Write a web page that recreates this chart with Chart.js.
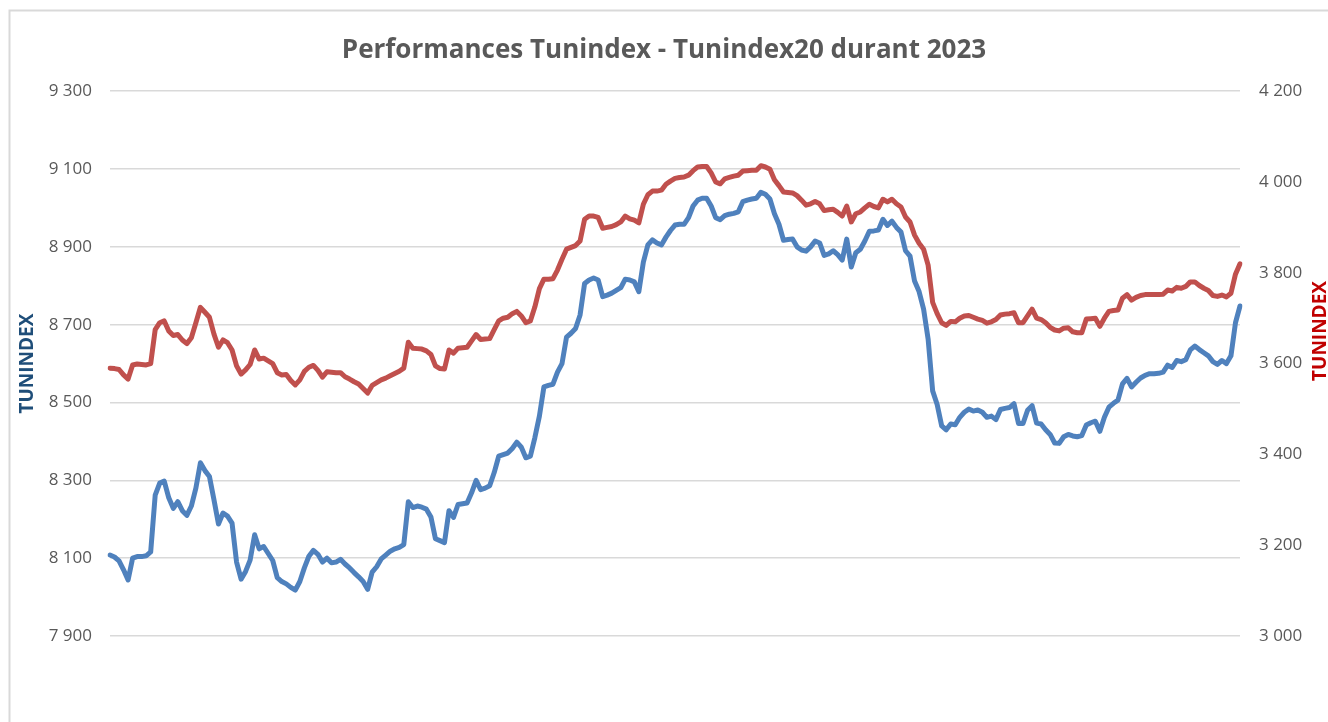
<!DOCTYPE html>
<html lang="fr">
<head>
    <meta charset="UTF-8">
    <title>Performances Tunindex - Tunindex20 durant 2023</title>
    <style>
        body {
            margin: 0;
            background-color: #FFFFFF;
        }
        #chartContainer {
            width: 1328px;
            height: 722px;
        }
    </style>
    <script src="https://cdn.jsdelivr.net/npm/chart.js"></script>
</head>
<body>
    <div id="chartContainer">
        <canvas id="myChart" width="1328" height="722"></canvas>
    </div>

    <script>
        // Clôtures quotidiennes 2023 (une valeur par séance)
        var tunindex = [
            8108, 8103, 8093, 8070, 8044, 8100, 8104, 8104, 8106, 8116,
            8262, 8293, 8298, 8255, 8228, 8245, 8222, 8210, 8234, 8280,
            8345, 8325, 8310, 8250, 8188, 8216, 8208, 8190, 8090, 8046,
            8066, 8095, 8160, 8124, 8130, 8112, 8094, 8050, 8040, 8034,
            8025, 8018, 8040, 8075, 8105, 8120, 8110, 8090, 8100, 8088,
            8090, 8097, 8085, 8075, 8063, 8052, 8040, 8020, 8064, 8078,
            8098, 8108, 8118, 8124, 8128, 8135, 8245, 8230, 8234, 8231,
            8226, 8206, 8150, 8145, 8140, 8222, 8205, 8238, 8240, 8242,
            8268, 8300, 8276, 8280, 8286, 8320, 8362, 8366, 8370, 8382,
            8398, 8385, 8358, 8362, 8410, 8465, 8540, 8544, 8547, 8578,
            8600, 8668, 8678, 8690, 8725, 8806, 8815, 8820, 8815, 8772,
            8776, 8781, 8788, 8795, 8817, 8815, 8810, 8785, 8861, 8905,
            8918, 8910, 8905, 8925, 8942, 8956, 8958, 8958, 8975, 9005,
            9020, 9025, 9025, 9005, 8975, 8970, 8980, 8984, 8986, 8990,
            9016, 9020, 9023, 9025, 9040, 9035, 9023, 8985, 8958, 8917,
            8919, 8920, 8900, 8892, 8889, 8900, 8915, 8910, 8878, 8882,
            8890, 8880, 8866, 8920, 8848, 8885, 8894, 8915, 8940, 8941,
            8943, 8971, 8955, 8966, 8950, 8938, 8890, 8876, 8812, 8785,
            8740, 8663, 8530, 8495, 8440, 8430, 8445, 8443, 8462, 8475,
            8483, 8478, 8481, 8475, 8462, 8465, 8456, 8482, 8485, 8487,
            8497, 8446, 8446, 8480, 8492, 8447, 8445, 8430, 8418, 8396,
            8395, 8412, 8418, 8414, 8412, 8415, 8442, 8448, 8452, 8426,
            8462, 8488, 8498, 8506, 8548, 8562, 8540, 8552, 8563, 8570,
            8574, 8574, 8575, 8578, 8596, 8590, 8608, 8605, 8610, 8635,
            8645, 8636, 8628, 8620, 8605, 8598, 8608, 8600, 8620, 8705,
            8748
        ];

        var tunindex20 = [
            3590, 3589, 3587, 3575, 3566, 3597, 3599, 3598, 3597, 3600,
            3675, 3690, 3694, 3672, 3662, 3664, 3652, 3644, 3657, 3690,
            3724, 3713, 3702, 3665, 3636, 3652, 3646, 3630, 3595, 3577,
            3586, 3598, 3630, 3610, 3612, 3606, 3600, 3580, 3575, 3576,
            3563, 3553, 3564, 3583, 3592, 3596, 3585, 3570, 3582, 3581,
            3580, 3580, 3571, 3566, 3560, 3555, 3545, 3535, 3552, 3558,
            3564, 3568, 3573, 3578, 3583, 3590, 3647, 3634, 3633, 3632,
            3628, 3620, 3595, 3589, 3588, 3630, 3623, 3634, 3635, 3636,
            3650, 3664, 3653, 3654, 3655, 3675, 3694, 3700, 3702, 3710,
            3715, 3705, 3690, 3694, 3725, 3765, 3786, 3786, 3787, 3806,
            3830, 3852, 3856, 3860, 3870, 3918, 3925, 3925, 3922, 3898,
            3900, 3902, 3906, 3912, 3925, 3919, 3916, 3910, 3951, 3972,
            3980, 3980, 3982, 3995, 4002, 4008, 4010, 4011, 4015, 4025,
            4033, 4034, 4034, 4020, 4000, 3996, 4007, 4010, 4013, 4015,
            4024, 4025, 4026, 4026, 4036, 4033, 4028, 4005, 3992, 3978,
            3977, 3976, 3970, 3960, 3949, 3952, 3957, 3952, 3937, 3939,
            3940, 3933, 3925, 3947, 3912, 3930, 3934, 3943, 3951, 3946,
            3943, 3962, 3956, 3962, 3952, 3945, 3923, 3912, 3883, 3865,
            3852, 3817, 3735, 3710, 3690, 3684, 3693, 3692, 3700, 3705,
            3706, 3702, 3698, 3695, 3689, 3692, 3697, 3707, 3709, 3710,
            3712, 3690, 3690, 3705, 3720, 3700, 3697, 3690, 3680, 3674,
            3672, 3678, 3679, 3670, 3668, 3668, 3698, 3699, 3700, 3682,
            3700, 3715, 3717, 3718, 3744, 3752, 3740, 3746, 3750, 3752,
            3752, 3752, 3752, 3753, 3762, 3760, 3768, 3766, 3770, 3780,
            3780, 3772, 3766, 3761, 3750, 3748, 3751, 3747, 3755, 3797,
            3820
        ];

        // Numéro de séance (axe des X masqué)
        var seances = tunindex.map(function (v, i) { return i + 1; });

        var leftTicks = { min: 7900, max: 9300, step: 200 };
        var rightTicks = { min: 3000, max: 4200, step: 200 };

        var FONT = '"Open Sans", "Liberation Sans", sans-serif';

        // séparateur des milliers : espace
        function fmt(v) {
            return String(v).replace(/\B(?=(\d{3})+(?!\d))/g, ' ');
        }

        // fond blanc + cadre gris du graphique
        var cadre = {
            id: 'cadre',
            beforeDraw: function (chart) {
                var ctx = chart.ctx;
                ctx.save();
                ctx.fillStyle = '#FFFFFF';
                ctx.fillRect(0, 0, chart.width, chart.height);
                ctx.strokeStyle = '#D9D9D9';
                ctx.lineWidth = 2;
                ctx.beginPath();
                ctx.moveTo(9.5, chart.height);
                ctx.lineTo(9.5, 10.5);
                ctx.lineTo(chart.width, 10.5);
                ctx.stroke();
                ctx.restore();
            }
        };

        // titre de l'axe secondaire (lu de bas en haut, comme dans Excel)
        var titreDroite = {
            id: 'titreDroite',
            afterDraw: function (chart) {
                var ctx = chart.ctx;
                ctx.save();
                ctx.translate(1321, 331);
                ctx.rotate(-Math.PI / 2);
                ctx.textAlign = 'center';
                ctx.textBaseline = 'middle';
                ctx.font = 'bold 19px ' + FONT;
                ctx.fillStyle = '#C00000';
                ctx.fillText('TUNINDEX', 0, 0);
                ctx.restore();
            }
        };

        var ctx = document.getElementById('myChart').getContext('2d');
        var myChart = new Chart(ctx, {
            type: 'line',
            data: {
                labels: seances,
                datasets: [{
                    label: 'Tunindex',
                    data: tunindex,
                    yAxisID: 'y',
                    borderColor: '#4F81BD',
                    borderWidth: 5,
                    pointRadius: 0,
                    tension: 0,
                    borderJoinStyle: 'round',
                    borderCapStyle: 'round',
                    fill: false
                }, {
                    label: 'Tunindex20',
                    data: tunindex20,
                    yAxisID: 'y1',
                    borderColor: '#C0504D',
                    borderWidth: 5,
                    pointRadius: 0,
                    tension: 0,
                    borderJoinStyle: 'round',
                    borderCapStyle: 'round',
                    fill: false
                }]
            },
            options: {
                responsive: false,
                animation: false,
                devicePixelRatio: 1,
                layout: {
                    padding: { left: 0, right: 0, top: 0, bottom: 86 }
                },
                plugins: {
                    legend: { display: false },
                    tooltip: { enabled: false },
                    title: {
                        display: true,
                        text: 'Performances Tunindex - Tunindex20 durant 2023',
                        color: '#595959',
                        font: { family: FONT, size: 26, weight: 'bold' },
                        padding: { top: 35, bottom: 25 }
                    }
                },
                scales: {
                    x: {
                        display: false
                    },
                    y: {
                        position: 'left',
                        min: leftTicks.min,
                        max: leftTicks.max,
                        afterFit: function (scale) { scale.width = 110; },
                        ticks: {
                            stepSize: leftTicks.step,
                            padding: 18,
                            color: '#595959',
                            font: { family: FONT, size: 17 },
                            callback: function (v) { return fmt(v); }
                        },
                        grid: {
                            color: '#D9D9D9',
                            lineWidth: 1.5,
                            drawTicks: false
                        },
                        border: { display: false },
                        title: {
                            display: true,
                            text: 'TUNINDEX',
                            color: '#1F4E79',
                            font: { family: FONT, size: 19, weight: 'bold' },
                            padding: { top: 16, bottom: 0 }
                        }
                    },
                    y1: {
                        position: 'right',
                        min: rightTicks.min,
                        max: rightTicks.max,
                        afterFit: function (scale) { scale.width = 88; },
                        ticks: {
                            stepSize: rightTicks.step,
                            padding: 19,
                            color: '#595959',
                            font: { family: FONT, size: 17 },
                            callback: function (v) { return fmt(v); }
                        },
                        grid: { display: false, drawTicks: false },
                        border: { display: false }
                    }
                }
            },
            plugins: [cadre, titreDroite]
        });
    </script>
</body>
</html>
